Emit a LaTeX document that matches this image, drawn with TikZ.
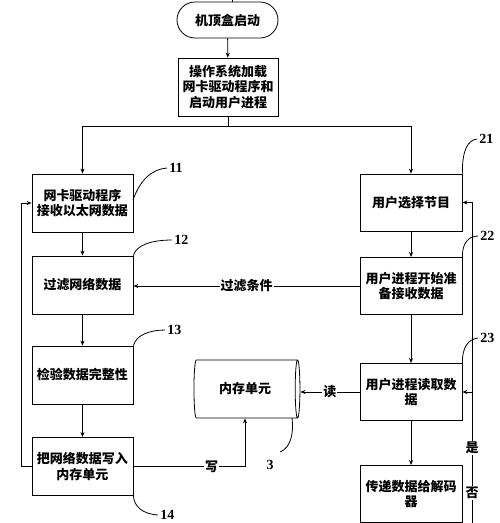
\documentclass[tikz,border=0pt]{standalone}
\usepackage{fontspec}
\setmainfont{Liberation Serif}
\newfontfamily\cjk{Noto Sans CJK SC}
\usetikzlibrary{arrows.meta,shapes.geometric}

\begin{document}
\begin{tikzpicture}[x=1pt,y=-1pt,line width=0.8pt,
    >={Stealth[length=5pt,width=4pt]},
    box/.style={draw, minimum width=101pt, minimum height=58pt, align=center,
      inner sep=2pt, font=\cjk\bfseries\fontsize{13}{15.5}\selectfont},
    tag/.style={fill=white, inner sep=1pt, font=\cjk\bfseries\fontsize{13}{15.5}\selectfont},
    num/.style={right, inner sep=2pt, font=\bfseries\fontsize{14}{16}\selectfont}]
    \useasboundingbox (0,0) rectangle (500,523);
    % Start and system loading
    \node[box, rounded corners=18pt, minimum height=36pt] (start) at (227.5,20) {机顶盒启动};
    \node[box, minimum width=100pt] (load) at (228,87) {操作系统加载\\网卡驱动程序和\\启动用户进程};
    \coordinate (top) at (232,0);
    \draw (top) -- (top |- start.north);
    \draw[->] (start) -- (load);
    % Left column: network card driver
    \node[box] (recv) at (82.5,203) {网卡驱动程序\\接收以太网数据};
    \node[box] (filter) at (82.5,285) {过滤网络数据};
    \node[box] (check) at (82.5,375) {检验数据完整性};
    \node[box] (store) at (82.5,466.5) {把网络数据写入\\内存单元};
    % Right column: user process
    \node[box, minimum width=102pt, minimum height=57pt] (select) at (411,202.5) {用户选择节目};
    \node[box, minimum width=102pt, minimum height=57pt] (ready) at (411,286) {用户进程开始准\\备接收数据};
    \node[box, minimum width=102pt, minimum height=57pt] (read) at (411,392) {用户进程读取数\\据};
    \node[box, minimum width=102pt, minimum height=57pt] (pass) at (411,494) {传递数据给解码\\器};
    % Memory unit
    \node[draw, cylinder, aspect=0.25, minimum width=58pt, minimum height=106pt,
      font=\cjk\bfseries\fontsize{13}{15.5}\selectfont] (mem) at (245,389) {内存单元};
    % Split into the two columns
    \coordinate (split) at (228,126);
    \draw (load) -- (split);
    \draw[->] (split) -| (recv);
    \draw[->] (split) -| (select);
    % Flow down the columns
    \draw[->] (recv) -- (filter);
    \draw[->] (filter) -- (check);
    \draw[->] (check) -- (store);
    \draw[->] (select) -- (ready);
    \draw[->] (ready) -- (read);
    \draw[->] (read) -- (pass);
    % Loop back on the left
    \draw[->] (store.west) -- ++(-10,0) |- (recv.west);
    % Filter condition, read and write
    \draw[->] (ready.west) -- node[tag] {过滤条件} (ready.west -| filter.east);
    \draw[->] (read.west) -- node[tag] {读} (read.west -| mem.east);
    \draw[->] (store.east) -| node[tag, pos=0.35] {写} (mem.south);
    % Loop back on the right
    \coordinate (back) at (472,523);
    \draw[->] (back) |- (select.east);
    \draw[->] (back |- read.east) -- (read.east);
    \node[tag] (yes) at (472,448) {是};
    \node[tag] (no) at (472,493) {否};
    % Reference numbers
    \draw (133,200) .. controls (140,180) and (152,169) .. (167,168) node[num] {11};
    \draw (filter.north east) .. controls (136,245) and (152,240) .. (172,240) node[num] {12};
    \draw (check.north east) .. controls (136,335) and (150,330) .. (165,330) node[num] {13};
    \draw (store.south east) .. controls (134,506) and (142,514) .. (158,515) node[num] {14};
    \draw (select.north east) .. controls (462,150) and (468,140) .. (477,139) node[num] {21};
    \draw (ready.north east) .. controls (462,244) and (468,236) .. (478,236) node[num] {22};
    \draw (read.north east) .. controls (462,348) and (468,339) .. (478,338) node[num] {23};
    \draw (292,418) .. controls (294,435) and (290,448) .. (280,452);
    \node[font=\bfseries\fontsize{14}{16}\selectfont] (ref3) at (270,465) {3};
\end{tikzpicture}
\end{document}
